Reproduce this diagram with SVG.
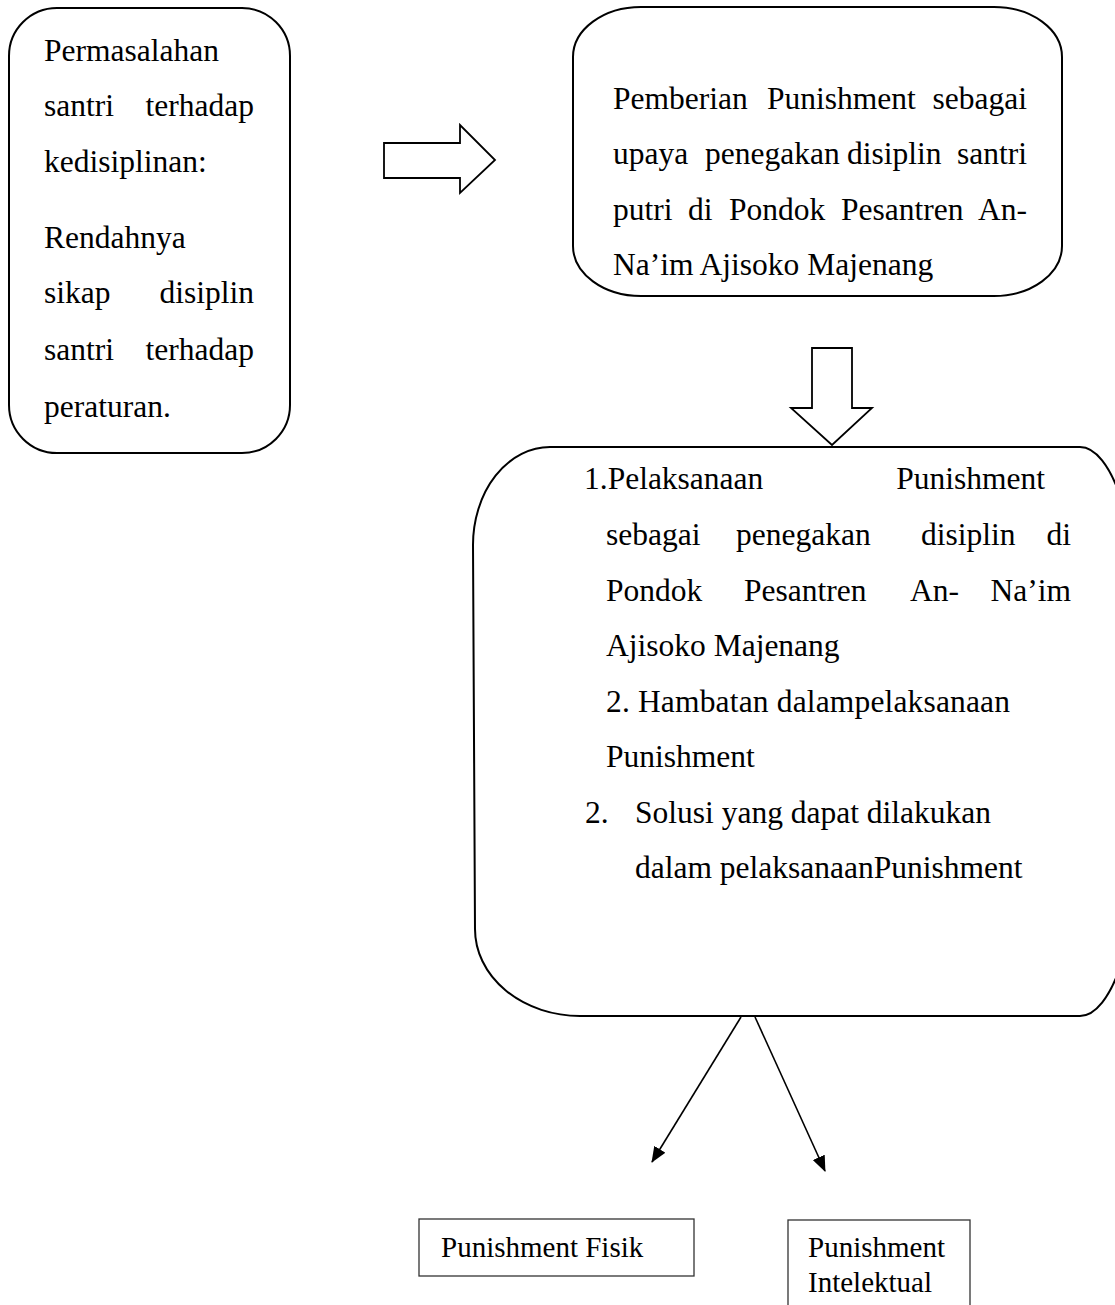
<svg xmlns="http://www.w3.org/2000/svg" width="1115" height="1305" viewBox="0 0 1115 1305">
<style>
.box{fill:#fff;stroke:#000;stroke-width:2}
.thin{fill:#fff;stroke:#333;stroke-width:1.3}
.blk{fill:#fff;stroke:#000;stroke-width:1.8;stroke-linejoin:miter}
.ln{stroke:#000;stroke-width:1.6;fill:none}
</style>
<defs>
<marker id="ah" viewBox="0 0 16 13" refX="15" refY="6.5" markerWidth="16" markerHeight="13" markerUnits="userSpaceOnUse" orient="auto">
<path d="M0,0 L16,6.5 L0,13 Z" fill="#000"/>
</marker>
</defs>
<rect width="1115" height="1305" fill="#fff"/>

<g id="node-permasalahan">
<rect class="box" x="9" y="8" width="281" height="445" rx="48" ry="48"/>
<g font-family="Liberation Serif" font-size="31.5" fill="#000">
<text x="44" y="61">Permasalahan</text>
<text x="44" y="116">santri</text>
<text x="254" y="116" text-anchor="end">terhadap</text>
<text x="44" y="172">kedisiplinan:</text>
<text x="44" y="248">Rendahnya</text>
<text x="44" y="303">sikap</text>
<text x="254" y="303" text-anchor="end">disiplin</text>
<text x="44" y="360">santri</text>
<text x="254" y="360" text-anchor="end">terhadap</text>
<text x="44" y="417">peraturan.</text>
</g>
</g>

<g id="node-pemberian">
<rect class="box" x="573" y="7" width="489" height="289" rx="68" ry="50"/>
<g font-family="Liberation Serif" font-size="31.5" fill="#000">
<text x="613" y="109">Pemberian</text>
<text x="767" y="109">Punishment</text>
<text x="1027" y="109" text-anchor="end">sebagai</text>
<text x="613" y="164">upaya</text>
<text x="705" y="164">penegakan</text>
<text x="847" y="164">disiplin</text>
<text x="1027" y="164" text-anchor="end">santri</text>
<text x="613" y="220">putri</text>
<text x="688" y="220">di</text>
<text x="729" y="220">Pondok</text>
<text x="841" y="220">Pesantren</text>
<text x="1027" y="220" text-anchor="end">An-</text>
<text x="613" y="275">Na’im Ajisoko Majenang</text>
</g>
</g>

<g id="node-fokus">
<path class="box" d="M550,447 L1080,447 A60,190 0 0 1 1140,637 L1140,826 A60,190 0 0 1 1080,1016 L580,1016 A105,87 0 0 1 475,929 L473,545 A77,98 0 0 1 550,447 Z"/>
<g font-family="Liberation Serif" font-size="31.5" fill="#000">
<text x="584" y="489">1.Pelaksanaan</text>
<text x="1045" y="489" text-anchor="end">Punishment</text>
<text x="606" y="545">sebagai</text>
<text x="736" y="545">penegakan</text>
<text x="921" y="545">disiplin</text>
<text x="1071" y="545" text-anchor="end">di</text>
<text x="606" y="600.5">Pondok</text>
<text x="744" y="600.5">Pesantren</text>
<text x="910" y="600.5">An-</text>
<text x="1071" y="600.5" text-anchor="end">Na’im</text>
<text x="606" y="656">Ajisoko Majenang</text>
<text x="606" y="711.5" textLength="404" lengthAdjust="spacing">2. Hambatan dalampelaksanaan</text>
<text x="606" y="767">Punishment</text>
<text x="585" y="822.5">2.</text>
<text x="635" y="822.5">Solusi yang dapat dilakukan</text>
<text x="635" y="878">dalam pelaksanaanPunishment</text>
</g>
</g>

<g id="node-fisik">
<rect class="thin" x="419" y="1219" width="275" height="57"/>
<text font-family="Liberation Serif" font-size="29" fill="#000" x="441" y="1257">Punishment Fisik</text>
</g>

<g id="node-intelektual">
<rect class="thin" x="788" y="1220" width="182" height="100"/>
<g font-family="Liberation Serif" font-size="29" fill="#000">
<text x="808" y="1257">Punishment</text>
<text x="808" y="1292">Intelektual</text>
</g>
</g>

<g id="connectors">
<path class="blk" d="M384,143 L460,143 L460,125 L495,160 L460,193 L460,178 L384,178 Z"/>
<path class="blk" d="M812,348 L852,348 L852,408 L872,408 L832,445 L791,408 L812,408 Z"/>
<line class="ln" x1="741" y1="1017" x2="652" y2="1162" marker-end="url(#ah)"/>
<line class="ln" x1="755" y1="1017" x2="825" y2="1171" marker-end="url(#ah)"/>
</g>
</svg>
